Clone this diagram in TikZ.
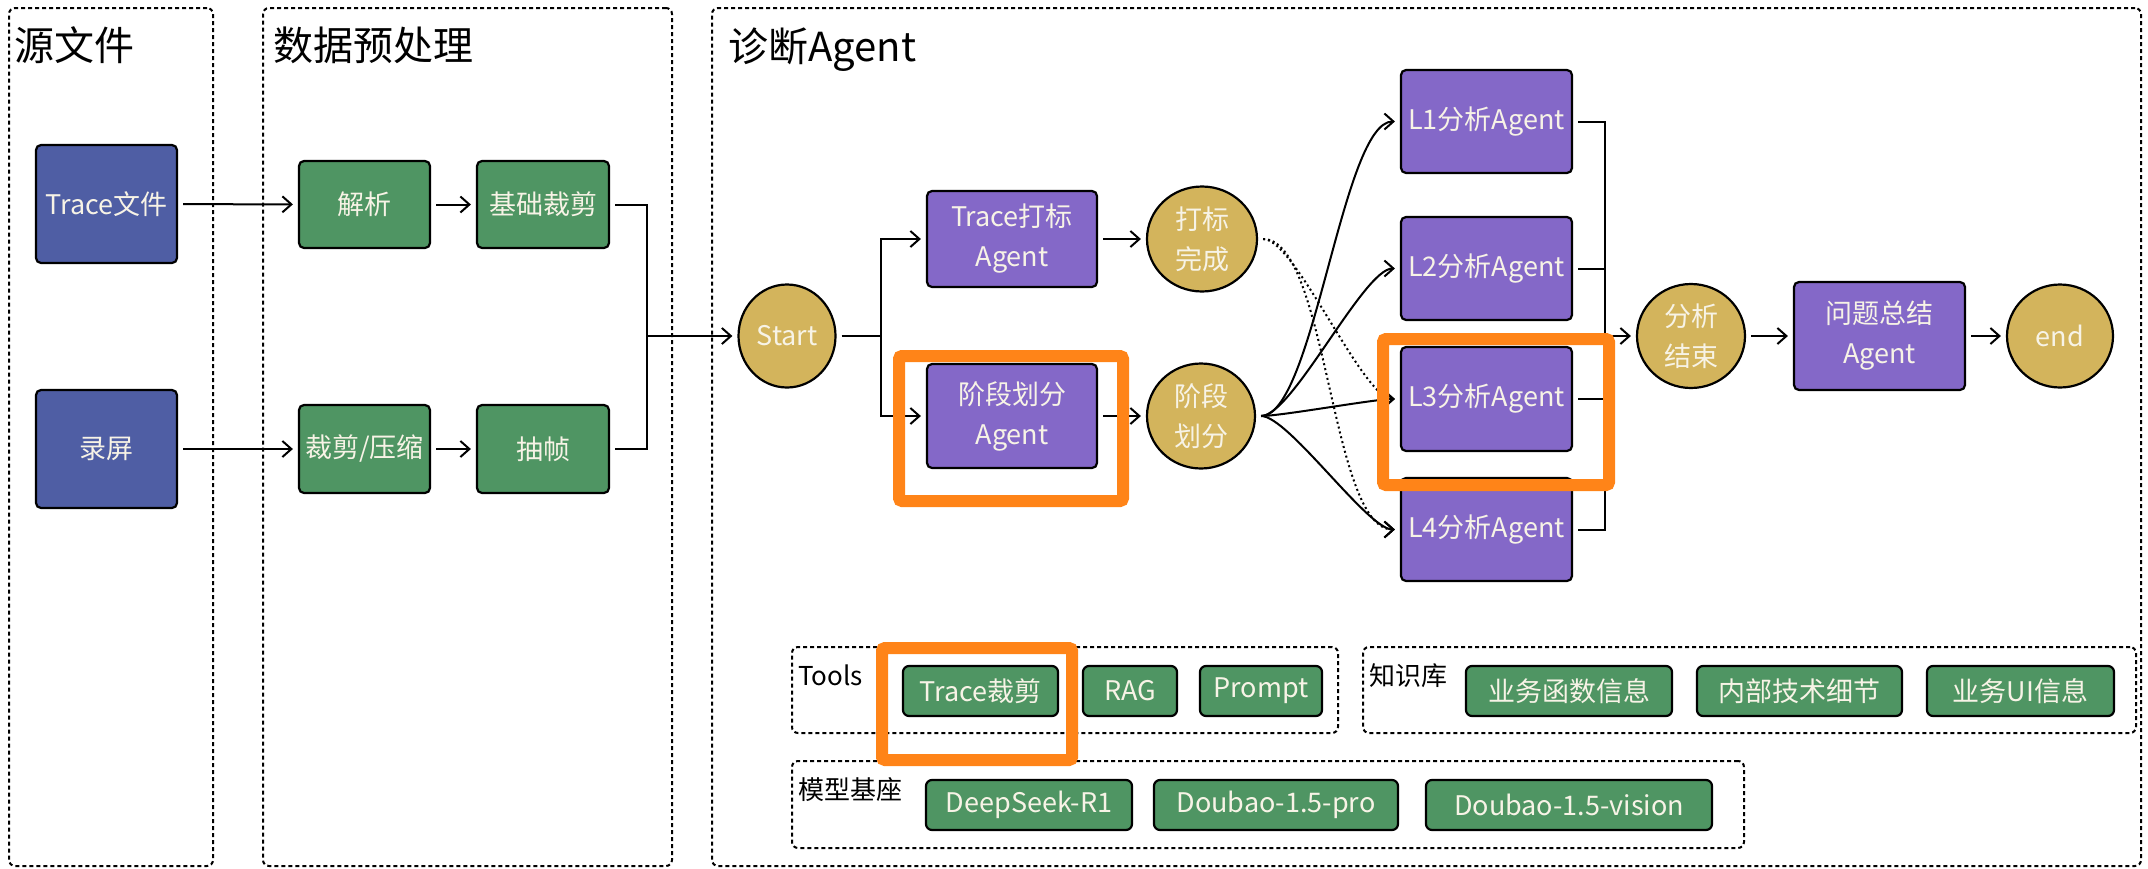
\documentclass[tikz,border=0pt]{standalone}
\usepackage{fontspec}
\setmainfont{Noto Sans CJK SC}
\usetikzlibrary{arrows.meta,shapes.geometric}
\definecolor{cblue}{HTML}{4F5EA4}
\definecolor{cgreen}{HTML}{4F9563}
\definecolor{cpurple}{HTML}{8468C8}
\definecolor{cgold}{HTML}{D3B45C}
\definecolor{corange}{HTML}{FF8418}
\definecolor{ctext}{HTML}{F7F3E6}
\begin{document}
\begin{tikzpicture}[x=1pt,y=-1pt,
  box/.style={draw=black, line width=2.2pt, rounded corners=5pt, text=ctext, align=center, inner sep=0pt, font=\fontsize{27}{40}\selectfont},
  srcbox/.style={box, fill=cblue},
  gbox/.style={box, fill=cgreen},
  pbox/.style={box, fill=cpurple},
  circ/.style={ellipse, draw=black, line width=2.2pt, fill=cgold, text=ctext, align=center, inner sep=0pt, font=\fontsize{27}{40}\selectfont},
  tagbox/.style={box, fill=cgreen, minimum height=50pt, rounded corners=6pt},
  grp/.style={draw=black, line width=2pt, dash pattern=on 4pt off 3pt, rounded corners=6pt, inner sep=0pt},
  ttl/.style={anchor=base west, inner sep=0pt, font=\fontsize{40}{48}\selectfont},
  glab/.style={anchor=base west, inner sep=0pt, font=\fontsize{26}{30}\selectfont},
  arr/.style={line width=2pt, shorten >=5pt, -{Straight Barb[length=9pt,width=16pt,line width=2pt]}},
  conn/.style={line width=2pt},
  gap/.style={shorten <=5pt},
  curve/.style={out=0, in=180, looseness=0.45},
  dotarr/.style={line width=2pt, dash pattern=on 2pt off 3pt, shorten >=5pt, -{Straight Barb[length=9pt,width=16pt,line width=2pt]}},
  hl/.style={draw=corange, line width=12pt, rounded corners=3pt, inner sep=0pt}
]
\useasboundingbox (0,0) rectangle (2148,868);

% containers
\node[grp, minimum width=204pt, minimum height=858pt] (g1) at (111,437) {};
\node[grp, minimum width=409pt, minimum height=858pt] (g2) at (467.5,437) {};
\node[grp, minimum width=1429pt, minimum height=858pt] (g3) at (1426.5,437) {};
\node[grp, minimum width=546pt, minimum height=86pt] (gt) at (1065,690) {};
\node[grp, minimum width=773pt, minimum height=86pt] (gk) at (1749.5,690) {};
\node[grp, minimum width=952pt, minimum height=87pt] (gm) at (1268,804.5) {};

% titles
\node[ttl] (t1) at (14,60) {源文件};
\node[ttl] (t2) at (273,60) {数据预处理};
\node[ttl] (t3) at (728,61) {诊断Agent};
\node[glab] (lt) at (798,685) {Tools};
\node[glab] (lk) at (1369,685) {知识库};
\node[glab] (lm) at (798,799) {模型基座};

% source & preprocessing
\node[srcbox, minimum width=141pt, minimum height=118pt] (tf) at (106.5,204) {Trace文件};
\node[srcbox, minimum width=141pt, minimum height=118pt] (lp) at (106.5,449) {录屏};
\node[gbox, minimum width=131pt, minimum height=87pt] (jx) at (364.5,204.5) {解析};
\node[gbox, minimum width=132pt, minimum height=87pt] (jc) at (543,204.5) {基础裁剪};
\node[gbox, minimum width=131pt, minimum height=88pt] (cy) at (364.5,449) {裁剪/压缩};
\node[gbox, minimum width=132pt, minimum height=88pt] (cz) at (543,449) {抽帧};

% agent flow
\node[circ, minimum width=97pt, minimum height=103pt] (start) at (787,336) {Start};
\node[pbox, minimum width=170pt, minimum height=96pt] (ta) at (1012,239) {Trace打标\\Agent};
\node[pbox, minimum width=170pt, minimum height=104pt] (pa) at (1012,416) {阶段划分\\Agent};
\node[circ, minimum width=110pt, minimum height=105pt] (dc) at (1202,239) {打标\\完成};
\node[circ, minimum width=108pt, minimum height=105pt] (pc) at (1201,416) {阶段\\划分};
\node[pbox, minimum width=171pt, minimum height=103pt] (L1) at (1486.5,121.5) {L1分析Agent};
\node[pbox, minimum width=171pt, minimum height=103pt] (L2) at (1486.5,268.5) {L2分析Agent};
\node[pbox, minimum width=171pt, minimum height=104pt] (L3) at (1486.5,399) {L3分析Agent};
\node[pbox, minimum width=171pt, minimum height=103pt] (L4) at (1486.5,529.5) {L4分析Agent};
\node[circ, minimum width=108pt, minimum height=104pt] (ac) at (1691,336) {分析\\结束};
\node[pbox, minimum width=171pt, minimum height=108pt] (sa) at (1879.5,336) {问题总结\\Agent};
\node[circ, minimum width=106pt, minimum height=103pt] (en) at (2060,336) {end};

% tools etc.
\node[tagbox, minimum width=155pt] (k1) at (980.5,691) {Trace裁剪};
\node[tagbox, minimum width=94pt] (k2) at (1130,691) {RAG};
\node[tagbox, minimum width=122pt] (k3) at (1261,691) {Prompt};
\node[tagbox, minimum width=206pt] (k4) at (1569,691) {业务函数信息};
\node[tagbox, minimum width=205pt] (k5) at (1799.5,691) {内部技术细节};
\node[tagbox, minimum width=187pt] (k6) at (2020.5,691) {业务UI信息};
\node[tagbox, minimum width=206pt] (m1n) at (1029,805) {DeepSeek-R1};
\node[tagbox, minimum width=244pt] (m2n) at (1276,805) {Doubao-1.5-pro};
\node[tagbox, minimum width=286pt] (m3n) at (1569,805) {Doubao-1.5-vision};

% connectors
\draw[arr,gap] (tf) -- (jx);
\draw[arr,gap] (jx) -- (jc);
\draw[arr,gap] (lp) -- (cy);
\draw[arr,gap] (cy) -- (cz);
\coordinate (mg) at (647,336);
\draw[conn,gap] (jc.east) -| (mg);
\draw[conn,gap] (cz.east) -| (mg);
\draw[arr] (mg) -- (start.west);
\coordinate (br) at (881,336);
\draw[conn,gap] (start.east) -- (br);
\draw[arr] (br) |- (ta.west);
\draw[arr] (br) |- (pa.west);
\draw[arr,gap] (ta) -- (dc);
\draw[arr,gap] (pa) -- (pc);
\draw[arr,gap] (pc.east) to[curve] (L1.west);
\draw[arr,gap] (pc.east) to[curve] (L2.west);
\draw[arr,gap] (pc.east) to[curve] (L3.west);
\draw[arr,gap] (pc.east) to[curve] (L4.west);
\draw[dotarr,gap] (dc.east) to[curve] (L3.west);
\draw[dotarr,gap] (dc.east) to[out=0,in=180,looseness=0.55] (L4.west);
\coordinate (mr) at (1605,336);
\draw[conn,gap] (L1.east) -| (mr);
\draw[conn,gap] (L4.east) -| (mr);
\draw[conn,gap] (L2.east) -- (L2.east -| mr);
\draw[conn,gap] (L3.east) -- (L3.east -| mr);
\draw[arr] (mr) -- (ac.west);
\draw[arr,gap] (ac) -- (sa);
\draw[arr,gap] (sa) -- (en);

% highlights
\node[hl, minimum width=224pt, minimum height=145pt] (h1) at (1011,428.5) {};
\node[hl, minimum width=226pt, minimum height=146pt] (h2) at (1496,412) {};
\node[hl, minimum width=190pt, minimum height=112pt] (h3) at (977,704) {};
\end{tikzpicture}
\end{document}
